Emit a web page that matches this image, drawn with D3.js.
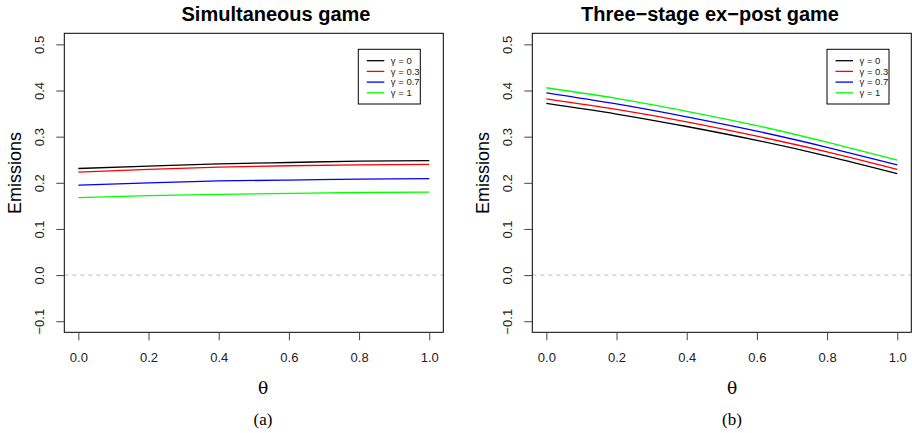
<!DOCTYPE html>
<html>
<head>
<meta charset="utf-8">
<script src="https://cdn.jsdelivr.net/npm/d3@7"></script>
<style>
  body { margin: 0; background: #fff; }
  svg { display: block; }
  text { font-family: "Liberation Sans", Arial, Helvetica, sans-serif; }
</style>
</head>
<body>
<svg id="chart" width="912" height="433"></svg>
<script>
// ---------- data ----------
const xTicks = [0, 0.2, 0.4, 0.6, 0.8, 1.0];
const yTicks = [-0.1, 0, 0.1, 0.2, 0.3, 0.4, 0.5];
const gammaLabels = ["γ = 0", "γ = 0.3", "γ = 0.7", "γ = 1"];
const seriesColors = ["#000000", "#FF0000", "#0000FF", "#00FF00"];

// Panel (a): Simultaneous game
const thetaA = [0, 0.2, 0.4, 0.6, 0.8, 1.0];
const simGamma0  = [0.231, 0.236, 0.241, 0.244, 0.247, 0.248];
const simGamma03 = [0.223, 0.229, 0.234, 0.237, 0.239, 0.240];
const simGamma07 = [0.195, 0.200, 0.204, 0.206, 0.208, 0.209];
const simGamma1  = [0.168, 0.172, 0.175, 0.177, 0.179, 0.180];

// Panel (b): Three-stage ex-post game
const thetaB = [0, 0.2, 0.4, 0.6, 0.8, 1.0];
const expGamma0  = [0.372, 0.349, 0.322, 0.292, 0.258, 0.220];
const expGamma03 = [0.382, 0.359, 0.332, 0.301, 0.267, 0.229];
const expGamma07 = [0.395, 0.371, 0.343, 0.312, 0.277, 0.239];
const expGamma1  = [0.406, 0.383, 0.355, 0.324, 0.288, 0.249];

const panels = [
  { title: "Simultaneous game", caption: "(a)", theta: thetaA,
    series: [simGamma0, simGamma03, simGamma07, simGamma1],
    left: 64.3, right: 443.3, titleX: 276, labX: 263, legX: 358.3 },
  { title: "Three\u2212stage ex\u2212post game", caption: "(b)", theta: thetaB,
    series: [expGamma0, expGamma03, expGamma07, expGamma1],
    left: 532.3, right: 911.3, titleX: 710, labX: 732, legX: 827 }
];

const svg = d3.select("#chart");
const plotTop = 33.3, plotBottom = 332.3;

panels.forEach(p => {
  const x = d3.scaleLinear().domain([-0.04, 1.04]).range([p.left, p.right]);
  const y = d3.scaleLinear().domain([-0.124, 0.524]).range([plotBottom, plotTop]);
  const g = svg.append("g");

  // zero reference line
  g.append("line")
    .attr("x1", p.left).attr("x2", p.right)
    .attr("y1", y(0)).attr("y2", y(0))
    .attr("stroke", "#bdbdbd").attr("stroke-width", 1)
    .attr("stroke-dasharray", "4,4");

  // series
  const line = d3.line()
    .x((d, i) => x(p.theta[i]))
    .y(d => y(d))
    .curve(d3.curveNatural);
  p.series.forEach((s, i) => {
    g.append("path").datum(s)
      .attr("d", line)
      .attr("fill", "none")
      .attr("stroke", seriesColors[i])
      .attr("stroke-width", 1.3);
  });

  // box
  g.append("rect")
    .attr("x", p.left).attr("y", plotTop)
    .attr("width", p.right - p.left).attr("height", plotBottom - plotTop)
    .attr("fill", "none").attr("stroke", "#000").attr("stroke-width", 1);

  // x axis
  const xa = g.append("g").attr("transform", `translate(0,${plotBottom})`)
    .call(d3.axisBottom(x).tickValues(xTicks).tickSize(8).tickPadding(0)
      .tickFormat(d3.format(".1f")));
  xa.select(".domain").remove();
  xa.selectAll(".tick line").attr("stroke", "#444");
  xa.selectAll(".tick text")
    .attr("y", 30).attr("dy", 0)
    .attr("font-size", 13).attr("fill", "#222")
    .style("font-family", '"Liberation Sans", Arial, sans-serif');

  // y axis
  const ya = g.append("g").attr("transform", `translate(${p.left},0)`)
    .call(d3.axisLeft(y).tickValues(yTicks).tickSize(8)
      .tickFormat(d3.format(".1f")));
  ya.select(".domain").remove();
  ya.selectAll(".tick line").attr("stroke", "#444");
  ya.selectAll(".tick text")
    .attr("x", 0).attr("y", -20).attr("dy", 0)
    .attr("transform", "rotate(-90)")
    .attr("text-anchor", "middle")
    .attr("font-size", 13).attr("fill", "#222")
    .style("font-family", '"Liberation Sans", Arial, sans-serif')
    .text(d => d3.format(".1f")(d).replace("-", "\u2212"));

  // title
  g.append("text")
    .attr("x", p.titleX).attr("y", 21)
    .attr("text-anchor", "middle")
    .attr("font-size", 20).attr("font-weight", "bold")
    .text(p.title);

  // y label
  g.append("text")
    .attr("transform", `translate(${p.left - 43},173) rotate(-90)`)
    .attr("text-anchor", "middle")
    .attr("font-size", 18)
    .text("Emissions");

  // x label
  g.append("text")
    .attr("x", p.labX).attr("y", 394)
    .attr("text-anchor", "middle")
    .attr("font-size", 17)
    .style("font-family", '"DejaVu Serif", "Liberation Serif", serif')
    .text("θ");

  // caption
  g.append("text")
    .attr("x", p.labX).attr("y", 425)
    .attr("text-anchor", "middle")
    .attr("font-size", 17)
    .style("font-family", '"Liberation Serif", "DejaVu Serif", serif')
    .text(p.caption);

  // legend
  const lg = g.append("g").attr("transform", `translate(${p.legX},49.3)`);
  lg.append("rect").attr("width", 62).attr("height", 54.7)
    .attr("fill", "#fff").attr("stroke", "#000").attr("stroke-width", 1);
  gammaLabels.forEach((lab, i) => {
    const yy = 11.4 + i * 10.7;
    lg.append("line").attr("x1", 8.5).attr("x2", 26).attr("y1", yy).attr("y2", yy)
      .attr("stroke", seriesColors[i]).attr("stroke-width", 1.3);
    lg.append("text").attr("x", 32.5).attr("y", yy + 3.3)
      .attr("font-size", 9.5).attr("fill", "#222")
      .text(lab);
  });
});
</script>
</body>
</html>
